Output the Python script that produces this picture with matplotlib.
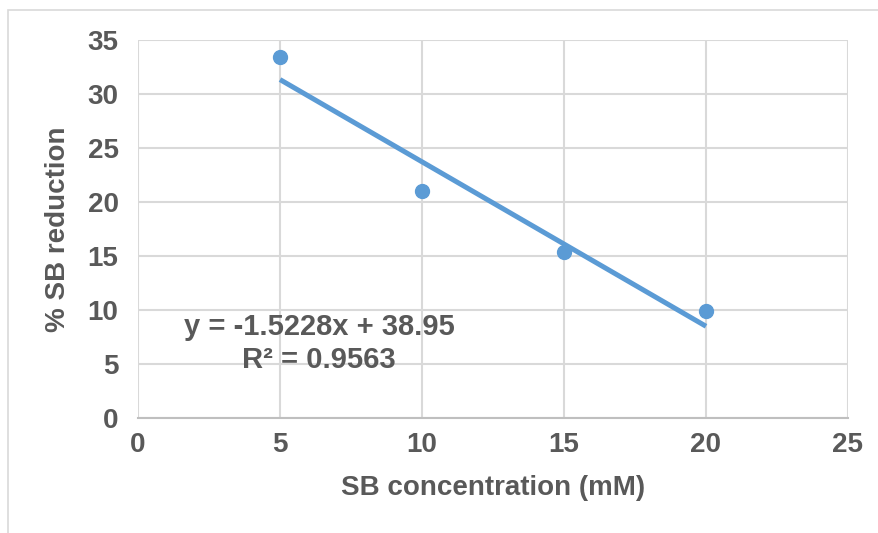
import numpy as np
import matplotlib
matplotlib.use("Agg")
import matplotlib.pyplot as plt
from matplotlib.patches import Rectangle

# data
conc = [5, 10, 15, 20]
reduction = [33.4, 21.0, 15.36, 9.9]
x_ticks = [0, 5, 10, 15, 20, 25]
y_ticks = [0, 5, 10, 15, 20, 25, 30, 35]
eq_text = "y = -1.5228x + 38.95"
r2_text = "R² = 0.9563"

blue = "#5B9BD5"
grey_txt = "#595959"
grid_col = "#D9D9D9"

plt.rcParams['font.family'] = ['Liberation Sans', 'DejaVu Sans']
plt.rcParams['font.weight'] = 'bold'
plt.rcParams['axes.labelweight'] = 'bold'

fig = plt.figure(figsize=(8.79, 5.33), dpi=100)
ax = fig.add_axes([138/879, 1-418/533, 710/879, 378/533])

# outer chart frame (only top and left edges visible)
fig.patches.append(Rectangle((8/879, -0.1), 1.2, 1.1 - 10/533, transform=fig.transFigure,
                             fill=False, edgecolor=grid_col, linewidth=1.2))

# linear trendline like excel
slope, icept = np.polyfit(conc, reduction, 1)
xs = np.array([min(conc), max(conc)])
ax.plot(xs, slope*xs + icept, color=blue, linewidth=3.6, solid_capstyle='butt', zorder=3)
ax.plot(conc, reduction, 'o', color=blue, markersize=10, zorder=4)

ax.set_xlim(0, 25)
ax.set_ylim(0, 35)
ax.set_xticks(x_ticks)
ax.set_yticks(y_ticks)
ax.grid(True, color=grid_col, linewidth=1.5)
ax.set_axisbelow(True)
for s in ['top', 'right', 'left']:
    ax.spines[s].set_visible(False)
ax.spines['bottom'].set_color('#BFBFBF')
ax.spines['bottom'].set_linewidth(1.5)
ax.tick_params(axis='x', length=0, labelsize=20, labelcolor=grey_txt, pad=10)
ax.tick_params(axis='y', length=0, labelsize=20, labelcolor=grey_txt, pad=14)

ax.set_xlabel("SB concentration (mM)", fontsize=20, color=grey_txt, labelpad=12)
ax.set_ylabel("% SB reduction", fontsize=20, color=grey_txt, labelpad=12)

ax.text(0.255, 0.24, eq_text, transform=ax.transAxes, ha='center', va='center',
        fontsize=21, color=grey_txt)
ax.text(0.255, 0.153, r2_text, transform=ax.transAxes, ha='center', va='center',
        fontsize=21, color=grey_txt)

fig.savefig("out.png", dpi=100)
